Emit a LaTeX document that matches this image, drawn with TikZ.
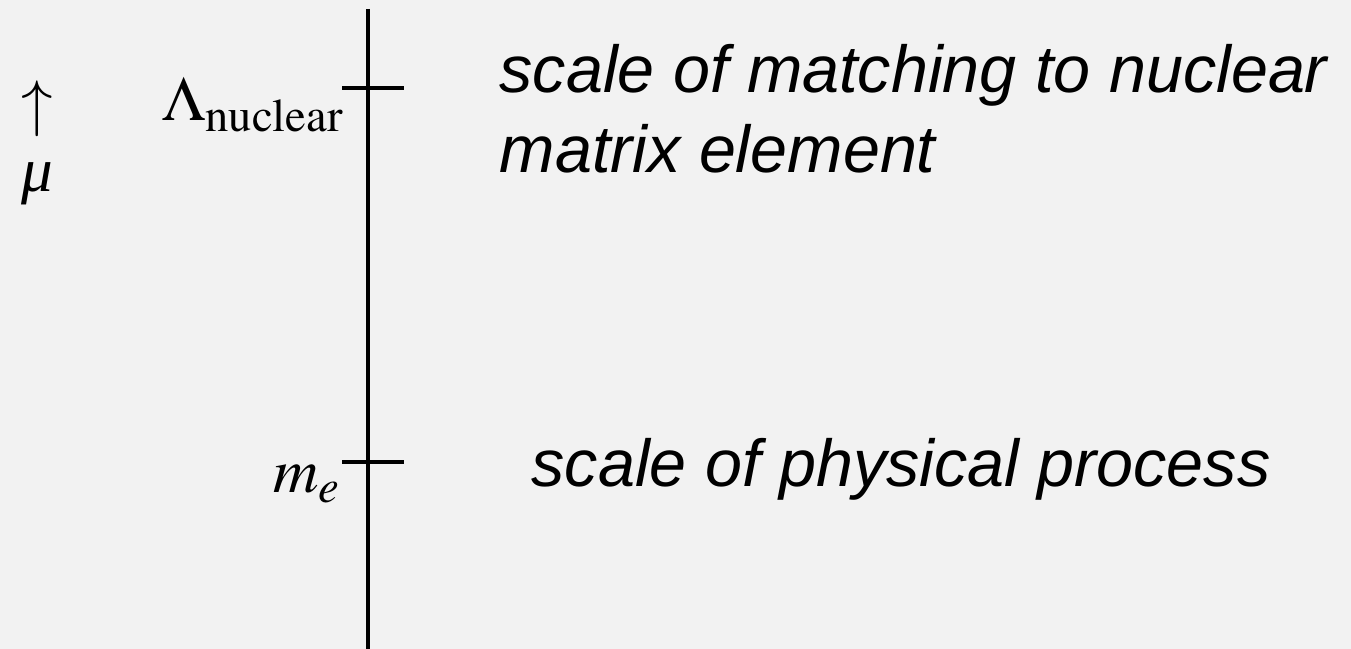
\documentclass[tikz,border=0pt]{standalone}
\usepackage{mathptmx}
\usepackage[no-math]{fontspec}
\newfontfamily\helv{Liberation Sans}
\newfontfamily\tms{Liberation Serif}
\definecolor{bg}{HTML}{F2F2F2}
\begin{document}
\begin{tikzpicture}[x=0.01cm,y=-0.01cm,
  axisline/.style={line width=1.2pt,black},
  tickline/.style={line width=1.3pt,black},
  desc/.style={inner sep=0pt,font=\helv\itshape\fontsize{18.9}{22.8}\selectfont,anchor=base west},
  mlab/.style={inner sep=0pt,font=\fontsize{17.9}{21}\selectfont}]
\fill[bg] (0,0) rectangle (1351,649);
\useasboundingbox (0,0) rectangle (1351,649);
% axis
\coordinate (top) at (368,9);
\coordinate (bot) at (368,652);
\draw[axisline] (top) -- (bot);
% ticks
\coordinate (t1l) at (342,88);
\coordinate (t1r) at (404,88);
\coordinate (t2l) at (342,462);
\coordinate (t2r) at (404,462);
\draw[tickline] (t1l) -- (t1r);
\draw[tickline] (t2l) -- (t2r);
% scale labels
\node[mlab,anchor=base east] (lam) at (345,121) {$\Lambda_{\mathrm{nuclear}}$};
\node[mlab,anchor=base east] (me) at (342,493) {$m_e$};
% mu direction
\node[mlab,anchor=south] (arr) at (37,137) {$\uparrow$};
\node[mlab,anchor=base,font=\tms\itshape\fontsize{17.9}{21}\selectfont] (mu) at (37,192) {μ};
% descriptions
\node[desc] (d1) at (499,93) {scale of matching to nuclear};
\node[desc] (d2) at (499,173) {matrix element};
\node[desc] (d3) at (531,487) {scale of physical process};
\end{tikzpicture}
\end{document}
